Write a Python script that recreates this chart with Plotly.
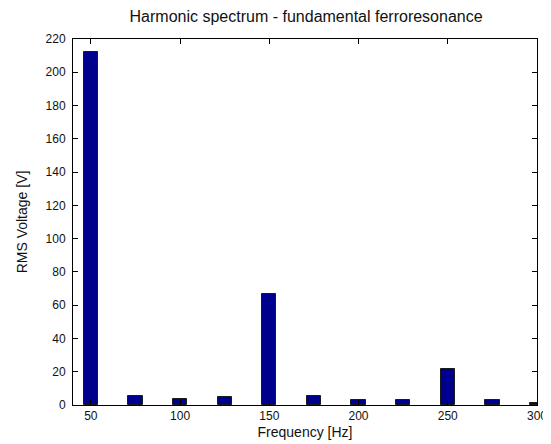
import plotly.graph_objects as go

freq_hz = [50, 75, 100, 125, 150, 175, 200, 225, 250, 275, 300]
rms_v = [212, 5.6, 3.6, 5.0, 67, 5.6, 3.0, 3.0, 21.5, 3.0, 1.0]
x_ticks = [50, 100, 150, 200, 250, 300]
y_ticks = list(range(0, 221, 20))

fig = go.Figure(go.Bar(
    x=freq_hz, y=rms_v, width=8,
    marker=dict(color="#00008F", line=dict(color="#1a1a1a", width=1)),
))

font = "Liberation Sans, Arial, sans-serif"
fig.update_layout(
    width=551, height=444,
    margin=dict(l=65, r=20, t=31, b=47),
    paper_bgcolor="white", plot_bgcolor="white",
    showlegend=False,
    font=dict(family=font, size=12, color="black"),
    title=dict(text="Harmonic spectrum - fundamental ferroresonance",
               x=0.541, xanchor="center", y=0.982, yanchor="middle",
               font=dict(size=16, family=font, color="#111111")),
    bargap=0,
)
fig.update_xaxes(range=[40, 300], tickvals=x_ticks, ticks="inside", ticklen=5,
                 tickcolor="black", showline=True, linecolor="black", linewidth=1,
                 mirror="allticks", showgrid=False, zeroline=False,
                 tickfont=dict(size=12, family=font, color="#111111"),
                 title=dict(text="Frequency [Hz]", font=dict(size=14, family=font, color="#111111"), standoff=4))
fig.update_yaxes(range=[0, 220], tickvals=y_ticks, ticks="inside", ticklen=5,
                 tickcolor="black", showline=True, linecolor="black", linewidth=1,
                 mirror="allticks", showgrid=False, zeroline=False,
                 ticklabelstandoff=4,
                 tickfont=dict(size=12, family=font, color="#111111"),
                 title=dict(text="RMS Voltage [V]", font=dict(size=14, family=font, color="#111111"), standoff=14))

fig.write_html("out.html")
